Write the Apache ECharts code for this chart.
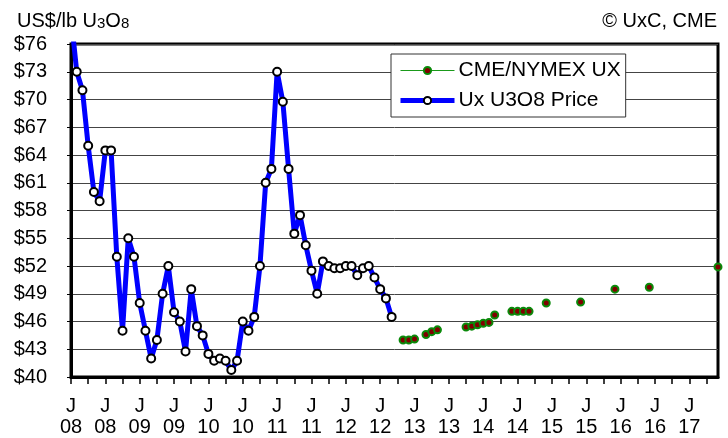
<!DOCTYPE html>
<html>
<head>
<meta charset="utf-8">
<script src="https://cdn.jsdelivr.net/npm/echarts@6/dist/echarts.min.js"></script>
<style>html,body{margin:0;padding:0;background:#fff;}#c{width:728px;height:438px;}</style>
</head>
<body>
<div id="c"></div>
<script>
// Ux U3O8 month-end spot price (US$/lb)
const uxMonths = ['2007-12',
  '2008-01','2008-02','2008-03','2008-04','2008-05','2008-06','2008-07','2008-08','2008-09','2008-10','2008-11','2008-12',
  '2009-01','2009-02','2009-03','2009-04','2009-05','2009-06','2009-07','2009-08','2009-09','2009-10','2009-11','2009-12',
  '2010-01','2010-02','2010-03','2010-04','2010-05','2010-06','2010-07','2010-08','2010-09','2010-10','2010-11','2010-12',
  '2011-01','2011-02','2011-03','2011-04','2011-05','2011-06','2011-07','2011-08','2011-09','2011-10','2011-11','2011-12',
  '2012-01','2012-02','2012-03','2012-04','2012-05','2012-06','2012-07','2012-08'];
const uxPrices = [79,
  73, 71, 65, 60, 59, 64.5, 64.5, 53, 45, 55, 53, 48,
  45, 42, 44, 49, 52, 47, 46, 42.75, 49.5, 45.5, 44.5, 42.5,
  41.75, 42, 41.75, 40.75, 41.75, 46, 45, 46.5, 52, 61, 62.5, 73,
  69.75, 62.5, 55.5, 57.5, 54.25, 51.5, 49, 52.5, 52, 51.75, 51.75, 52,
  52, 51, 51.75, 52, 50.75, 49.5, 48.5, 46.5];

// CME/NYMEX UX futures (contract month, price)
const cmeMonths = ['2012-10','2012-11','2012-12','2013-02','2013-03','2013-04',
  '2013-09','2013-10','2013-11','2013-12','2014-01','2014-02',
  '2014-05','2014-06','2014-07','2014-08','2014-11','2015-05','2015-11','2016-05','2017-05'];
const cmePrices = [44.0, 44.0, 44.1, 44.6, 44.9, 45.1,
  45.4, 45.5, 45.65, 45.8, 45.9, 46.7,
  47.1, 47.1, 47.1, 47.1, 48.0, 48.1, 49.5, 49.7, 51.9];

const yTicks = [40, 43, 46, 49, 52, 55, 58, 61, 64, 67, 70, 73, 76];
const startYear = 2008;
const endMonthIndex = 113; // end of June 2017 (months since Jan 2008)

// month-end position in months since Jan 1, 2008
function monthEnd(s) {
  const [y, m] = s.split('-').map(Number);
  return (y - startYear) * 12 + (m - 1) + 1;
}
const uxData = uxMonths.map((m, i) => [monthEnd(m), uxPrices[i]]);
const cmeData = cmeMonths.map((m, i) => [monthEnd(m), cmePrices[i]]);

const FONT = '"Liberation Sans", Arial, sans-serif';
const chart = echarts.init(document.getElementById('c'), null, {renderer: 'canvas'});
chart.setOption({
  animation: false,
  backgroundColor: '#fff',
  textStyle: {fontFamily: FONT, color: '#000'},
  title: [{
    left: 12, top: 6,
    text: 'US$/lb U{s|3}O{s|8}',
    textStyle: {fontFamily: FONT, fontSize: 20, fontWeight: 'normal', color: '#000',
      rich: {s: {fontFamily: FONT, fontSize: 15, color: '#000', verticalAlign: 'bottom', padding: [3, 0, 0, 0]}}}
  }, {
    right: 6, top: 6,
    text: '© UxC, CME',
    textStyle: {fontFamily: FONT, fontSize: 20, fontWeight: 'normal', color: '#000'}
  }],
  legend: {
    left: 391, top: 54,
    orient: 'vertical',
    backgroundColor: '#fff',
    borderColor: '#333', borderWidth: 1,
    padding: [6, 5, 6, 7],
    itemWidth: 54, itemHeight: 9, itemGap: 9,
    textStyle: {fontFamily: FONT, fontSize: 21, color: '#000', lineHeight: 21, padding: [0, 0, 0, -1]},
    data: [
      {name: 'CME/NYMEX UX', lineStyle: {opacity: 1, width: 1, color: '#1a9a1a'}},
      {name: 'Ux U3O8 Price', lineStyle: {width: 5, color: '#0000ff'}}
    ]
  },
  grid: {left: 71, right: 10, top: 44, bottom: 59, show: true, borderColor: '#000', borderWidth: 3},
  xAxis: {
    type: 'value', min: 0, max: endMonthIndex, interval: 3,
    axisLine: {show: true, lineStyle: {color: '#000', width: 3}},
    axisTick: {show: true, length: 7, lineStyle: {color: '#000', width: 1.5}},
    splitLine: {show: false},
    axisLabel: {
      fontFamily: FONT, fontSize: 20, color: '#000', margin: 19, lineHeight: 21,
      showMaxLabel: false,
      formatter: v => (v % 6 === 0 ? 'J\n' + String((startYear + Math.floor(v / 12)) % 100).padStart(2, '0') : '')
    }
  },
  yAxis: {
    type: 'value', min: yTicks[0], max: yTicks[yTicks.length - 1], interval: yTicks[1] - yTicks[0],
    axisLine: {show: true, lineStyle: {color: '#000', width: 3}},
    axisTick: {show: true, length: 4, lineStyle: {color: '#000', width: 1}},
    splitLine: {show: true, lineStyle: {color: '#444', width: 1}},
    axisLabel: {fontFamily: FONT, fontSize: 20, color: '#000', margin: 24, formatter: v => '$' + v}
  },
  series: [{
    name: 'Ux U3O8 Price', type: 'line', data: uxData, clip: true,
    lineStyle: {color: '#0000ff', width: 5},
    symbol: 'circle', symbolSize: 8, showAllSymbol: true,
    itemStyle: {color: '#fff', borderColor: '#000', borderWidth: 2},
    z: 3
  }, {
    name: 'CME/NYMEX UX', type: 'line', data: cmeData, clip: false,
    lineStyle: {opacity: 0, width: 1, color: '#1a9a1a'},
    symbol: 'circle', symbolSize: 7, showAllSymbol: true,
    itemStyle: {color: '#800000', borderColor: '#0a8a0a', borderWidth: 2},
    z: 4
  }]
});
</script>
</body>
</html>
